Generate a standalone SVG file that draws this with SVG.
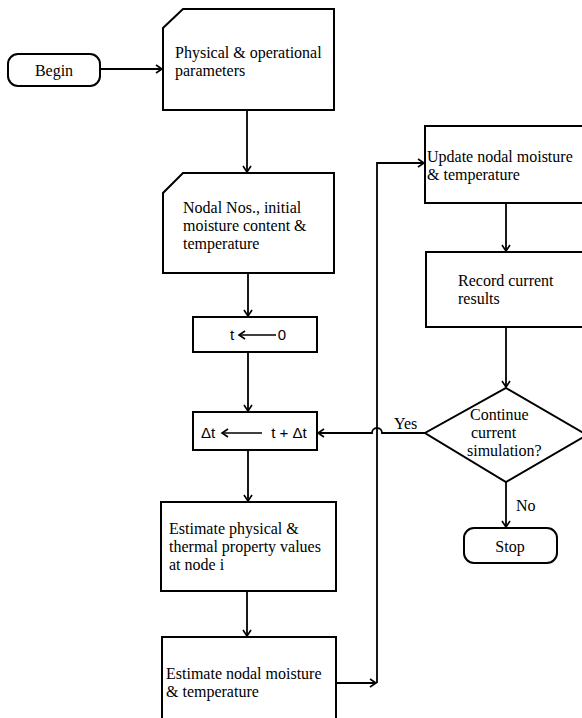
<svg xmlns="http://www.w3.org/2000/svg" width="582" height="718" viewBox="0 0 582 718">
<style>
.box{fill:#fff;stroke:#000;stroke-width:2}
.ln{fill:none;stroke:#000;stroke-width:1.8}
.t{font-family:"Liberation Serif","Times New Roman",serif;font-size:16px;fill:#000}
.s{font-family:"Liberation Sans",Arial,sans-serif;font-size:15px;fill:#000}
</style>
<defs>
<marker id="ah" markerWidth="10" markerHeight="10" refX="8" refY="5" orient="auto" markerUnits="userSpaceOnUse">
<path d="M2,1 L8,5 L2,9" fill="none" stroke="#000" stroke-width="1.6"/>
</marker>
</defs>
<rect width="582" height="718" fill="#fff"/>
<g id="connectors">
<line class="ln" x1="100" y1="69" x2="162" y2="69" marker-end="url(#ah)"/>
<line class="ln" x1="247" y1="110" x2="247" y2="172" marker-end="url(#ah)"/>
<line class="ln" x1="248" y1="273" x2="248" y2="316" marker-end="url(#ah)"/>
<line class="ln" x1="248" y1="352" x2="248" y2="411" marker-end="url(#ah)"/>
<line class="ln" x1="248" y1="450" x2="248" y2="501" marker-end="url(#ah)"/>
<line class="ln" x1="247" y1="591" x2="247" y2="636" marker-end="url(#ah)"/>
<line class="ln" x1="336" y1="683" x2="376" y2="683" marker-end="url(#ah)"/>
<path class="ln" d="M377,683 L377,163 L424,163" marker-end="url(#ah)"/>
<line class="ln" x1="506" y1="203" x2="506" y2="251" marker-end="url(#ah)"/>
<line class="ln" x1="506" y1="327" x2="506" y2="387" marker-end="url(#ah)"/>
<line class="ln" x1="506" y1="482" x2="506" y2="527" marker-end="url(#ah)"/>
<path class="ln" d="M425,433 L382,433 A5,5 0 0 0 372,433 L318,433" marker-end="url(#ah)"/>
<text class="t" x="394" y="429">Yes</text>
<text class="t" x="516" y="511">No</text>
</g>
<g id="begin">
<rect class="box" x="8" y="54" width="92" height="32" rx="10"/>
<text class="t" x="54" y="76" text-anchor="middle">Begin</text>
</g>
<g id="physical">
<path class="box" d="M183,9 L334,9 L334,110 L163,110 L163,28 Z"/>
<text class="t" x="175" y="58">Physical &amp; operational</text>
<text class="t" x="175" y="76">parameters</text>
</g>
<g id="nodal">
<path class="box" d="M183,173 L334,173 L334,273 L163,273 L163,193 Z"/>
<text class="t" x="183" y="213">Nodal Nos., initial</text>
<text class="t" x="183" y="231">moisture content &amp;</text>
<text class="t" x="183" y="249">temperature</text>
</g>
<g id="t-init">
<rect class="box" x="193" y="317" width="124" height="35"/>
<text class="s" x="232" y="340" text-anchor="middle">t</text>
<line x1="276" y1="335" x2="239" y2="335" stroke="#000" stroke-width="1.5" marker-end="url(#ah)"/>
<text class="s" x="282" y="340" text-anchor="middle">0</text>
</g>
<g id="dt">
<rect class="box" x="193" y="412" width="124" height="38"/>
<text class="s" x="208" y="438" text-anchor="middle">Δt</text>
<line x1="262" y1="433" x2="222" y2="433" stroke="#000" stroke-width="1.5" marker-end="url(#ah)"/>
<text class="s" x="289" y="438" text-anchor="middle">t + Δt</text>
</g>
<g id="est-phys">
<rect class="box" x="161" y="502" width="175" height="89"/>
<text class="t" x="169" y="534">Estimate physical &amp;</text>
<text class="t" x="169" y="552">thermal property values</text>
<text class="t" x="169" y="570">at node i</text>
</g>
<g id="est-nodal">
<rect class="box" x="162" y="637" width="174" height="90"/>
<text class="t" x="166" y="679">Estimate nodal moisture</text>
<text class="t" x="166" y="697">&amp; temperature</text>
</g>
<g id="update">
<rect class="box" x="425" y="126" width="170" height="77"/>
<text class="t" x="427" y="162">Update nodal moisture</text>
<text class="t" x="427" y="180">&amp; temperature</text>
</g>
<g id="record">
<rect class="box" x="426" y="252" width="170" height="75"/>
<text class="t" x="458" y="286">Record current</text>
<text class="t" x="458" y="304">results</text>
</g>
<g id="decision">
<path class="box" d="M506,388 L587,435 L506,482 L425,433 Z"/>
<text class="t" x="470" y="420">Continue</text>
<text class="t" x="471" y="438">current</text>
<text class="t" x="467" y="456">simulation?</text>
</g>
<g id="stop">
<rect class="box" x="464" y="528" width="93" height="35" rx="10"/>
<text class="t" x="510" y="552" text-anchor="middle">Stop</text>
</g>
</svg>
